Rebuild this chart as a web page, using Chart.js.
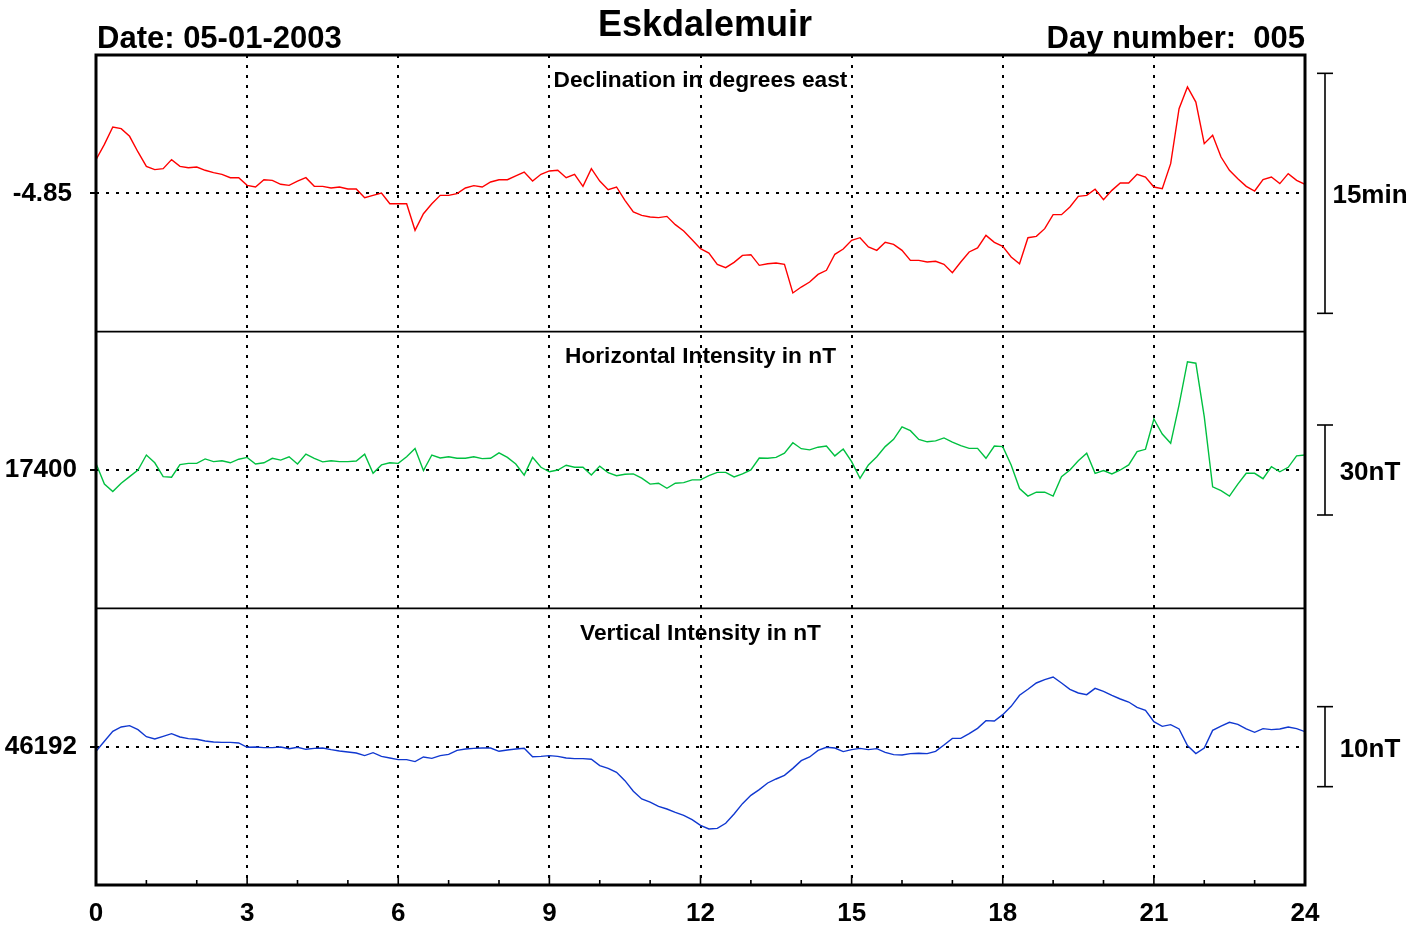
<!DOCTYPE html>
<html><head><meta charset="utf-8">
<script src="https://cdn.jsdelivr.net/npm/chart.js@4/dist/chart.umd.min.js"></script>
<style>
html,body{margin:0;padding:0;background:#fff;}
#wrap{position:relative;width:1421px;height:930px;overflow:hidden;font-family:"Liberation Sans",Arial,Helvetica,sans-serif;font-weight:bold;color:#000;}
#c{position:absolute;left:0;top:0;}
.t{position:absolute;white-space:pre;line-height:1;font-weight:bold;}
</style></head><body>
<div id="wrap">
<canvas id="c" width="1421" height="930"></canvas>
<div class="t" id="title">Eskdalemuir</div>
<div class="t" id="date">Date: 05-01-2003</div>
<div class="t" id="day">Day number:  005</div>
</div>
<script>
// ---- data (10-minute samples, 00:00 to 24:00 UT) ----
const STEP_MINUTES = 10;
const dValues = [
-4.8149,-4.7990,-4.7809,-4.7826,-4.7906,-4.8069,-4.8219,-4.8253,-4.8243,-4.8149,
-4.8219,-4.8233,-4.8226,-4.8260,-4.8285,-4.8302,-4.8337,-4.8337,-4.8417,-4.8434,
-4.8358,-4.8365,-4.8406,-4.8417,-4.8372,-4.8337,-4.8427,-4.8427,-4.8444,-4.8434,
-4.8455,-4.8455,-4.8545,-4.8521,-4.8497,-4.8608,-4.8608,-4.8608,-4.8885,-4.8712,
-4.8608,-4.8521,-4.8521,-4.8503,-4.8444,-4.8420,-4.8434,-4.8382,-4.8358,-4.8358,
-4.8319,-4.8278,-4.8372,-4.8302,-4.8267,-4.8260,-4.8337,-4.8302,-4.8427,-4.8243,
-4.8372,-4.8462,-4.8434,-4.8573,-4.8694,-4.8729,-4.8747,-4.8753,-4.8740,-4.8826,
-4.8892,-4.8983,-4.9076,-4.9122,-4.9240,-4.9274,-4.9219,-4.9146,-4.9139,-4.9250,
-4.9233,-4.9226,-4.9240,-4.9538,-4.9476,-4.9424,-4.9344,-4.9302,-4.9135,-4.9080,
-4.8990,-4.8962,-4.9059,-4.9094,-4.9010,-4.9031,-4.9094,-4.9198,-4.9198,-4.9215,
-4.9208,-4.9240,-4.9326,-4.9215,-4.9111,-4.9069,-4.8938,-4.9010,-4.9052,-4.9163,
-4.9233,-4.8962,-4.8948,-4.8868,-4.8722,-4.8722,-4.8642,-4.8531,-4.8521,-4.8458,
-4.8566,-4.8469,-4.8392,-4.8392,-4.8302,-4.8330,-4.8434,-4.8451,-4.8191,-4.7618,
-4.7392,-4.7549,-4.7983,-4.7896,-4.8122,-4.8260,-4.8347,-4.8427,-4.8476,-4.8358,
-4.8330,-4.8399,-4.8295,-4.8365,-4.8406];
const hValues = [
17402.2,17395.3,17392.8,17395.6,17397.8,17400.0,17405.0,17402.4,17397.8,17397.6,
17401.8,17402.2,17402.2,17403.7,17402.8,17403.1,17402.4,17403.6,17404.2,17402.0,
17402.4,17403.9,17403.3,17404.4,17402.0,17405.3,17403.9,17402.7,17403.1,17402.8,
17402.8,17403.0,17405.3,17398.9,17401.7,17402.4,17402.2,17404.4,17407.2,17399.8,
17405.0,17404.0,17404.4,17403.9,17403.9,17404.4,17403.8,17403.9,17405.7,17404.2,
17402.0,17398.3,17404.2,17400.9,17399.4,17400.0,17401.6,17400.9,17400.9,17398.3,
17401.3,17399.1,17398.1,17398.6,17398.7,17397.3,17395.3,17395.6,17393.9,17395.6,
17395.8,17396.7,17396.7,17398.1,17399.2,17399.2,17397.7,17398.7,17400.0,17404.0,
17403.9,17404.2,17405.6,17409.1,17407.1,17406.7,17407.6,17408.0,17404.7,17407.0,
17402.8,17397.2,17401.7,17404.4,17407.8,17410.2,17414.4,17413.1,17410.2,17409.4,
17409.7,17410.7,17409.3,17408.1,17407.2,17407.2,17403.9,17408.0,17407.8,17401.7,
17393.8,17391.3,17392.6,17392.6,17391.3,17397.8,17400.0,17403.1,17405.6,17398.9,
17399.8,17398.7,17400.0,17401.7,17406.1,17406.9,17417.0,17412.0,17408.9,17421.7,
17436.1,17435.6,17417.8,17394.4,17393.1,17391.3,17395.3,17398.9,17398.9,17397.1,
17401.1,17399.4,17400.9,17404.7,17405.0];
const zValues = [
46191.42,46192.67,46193.92,46194.46,46194.63,46194.13,46193.25,46192.96,46193.29,46193.63,
46193.21,46193.00,46192.92,46192.71,46192.58,46192.54,46192.54,46192.46,46191.92,46191.96,
46191.88,46191.88,46191.96,46191.75,46191.92,46191.67,46191.79,46191.83,46191.63,46191.46,
46191.33,46191.21,46190.88,46191.25,46190.79,46190.58,46190.38,46190.38,46190.13,46190.71,
46190.54,46190.88,46191.04,46191.54,46191.71,46191.79,46191.83,46191.83,46191.42,46191.58,
46191.71,46191.79,46190.75,46190.79,46190.88,46190.79,46190.58,46190.50,46190.50,46190.42,
46189.63,46189.29,46188.79,46187.75,46186.42,46185.46,46185.08,46184.54,46184.21,46183.79,
46183.42,46182.88,46182.17,46181.71,46181.79,46182.42,46183.58,46184.88,46185.92,46186.63,
46187.46,46187.96,46188.42,46189.29,46190.25,46190.71,46191.54,46191.92,46191.83,46191.38,
46191.63,46191.79,46191.63,46191.75,46191.29,46191.00,46190.96,46191.13,46191.17,46191.13,
46191.42,46192.21,46193.04,46193.04,46193.63,46194.29,46195.25,46195.21,46196.00,46197.04,
46198.42,46199.17,46199.96,46200.38,46200.71,46199.96,46199.17,46198.71,46198.50,46199.29,
46198.92,46198.42,46197.96,46197.58,46196.92,46196.54,46195.13,46194.54,46194.75,46194.21,
46192.13,46191.13,46191.83,46194.04,46194.58,46195.04,46194.79,46194.21,46193.79,46194.25,
46194.13,46194.21,46194.46,46194.25,46193.88];
const hours = dValues.map((_, i) => i * STEP_MINUTES / 60);

const xTickHours = [0, 3, 6, 9, 12, 15, 18, 21, 24];
const xTickLabels = ['0', '3', '6', '9', '12', '15', '18', '21', '24'];
const minorTickHours = [1,2,4,5,7,8,10,11,13,14,16,17,19,20,22,23];
const panelTitles = ['Declination in degrees east', 'Horizontal Intensity in nT', 'Vertical Intensity in nT'];
const baseValues = [-4.85, 17400, 46192];
const baseLabels = ['-4.85', '17400', '46192'];
const scaleBarSizes = [0.25, 30, 10];          // 15 arcmin, 30 nT, 10 nT
const scaleBarLabels = ['15min', '30nT', '10nT'];
const pxPerUnit = [960, 3, 8];                  // panel scaling (pixels per unit)
const seriesColors = ['#ff0000', '#00c040', '#1038d0'];

// ---- chart ----
const FONT = '"Liberation Sans", Arial, Helvetica, sans-serif';
const PANEL_HALF_PX = 138.33;
const LABEL_PAD = [18, 13, 13];
const axisIds = ['yD', 'yH', 'yZ'];
const seriesValues = [dValues, hValues, zValues];

function yScale(i) {
  return {
    type: 'linear', position: 'left', stack: 'panels', stackWeight: 1,
    min: baseValues[i] - PANEL_HALF_PX / pxPerUnit[i],
    max: baseValues[i] + PANEL_HALF_PX / pxPerUnit[i],
    afterBuildTicks: s => { s.ticks = [{ value: baseValues[i] }]; },
    afterFit: s => { s.width = 96; },
    ticks: { padding: LABEL_PAD[i], color: '#000', font: { family: FONT, size: 26, weight: 'bold' },
             callback: () => baseLabels[i] },
    grid: { color: '#000', lineWidth: 2, drawTicks: true, tickLength: 6, tickWidth: 2,
            tickColor: '#000', tickBorderDash: [] },
    border: { display: false, dash: [3, 7] }
  };
}

const overlay = {
  id: 'overlay',
  afterDraw(chart) {
    const { ctx, chartArea: a, scales } = chart;
    ctx.save();
    ctx.strokeStyle = '#000';
    const seg = (x1, y1, x2, y2) => { ctx.beginPath(); ctx.moveTo(x1, y1); ctx.lineTo(x2, y2); ctx.stroke(); };
    // panel separators
    ctx.lineWidth = 1.6;
    ['yD', 'yH'].forEach(id => { const y = scales[id].bottom; seg(a.left, y, a.right, y); });
    // hour ticks on the bottom axis
    ctx.lineWidth = 1.6;
    minorTickHours.forEach(h => { const x = scales.x.getPixelForValue(h); seg(x, a.bottom, x, a.bottom - 5); });
    xTickHours.forEach(h => { const x = scales.x.getPixelForValue(h); seg(x, a.bottom, x, a.bottom - 10); });
    // frame
    ctx.lineWidth = 3;
    ctx.strokeRect(a.left, a.top, a.right - a.left, a.bottom - a.top);
    // scale bars
    ctx.lineWidth = 1.6;
    const bx = a.right + 20;
    axisIds.forEach((id, i) => {
      const s = scales[id];
      const y1 = s.getPixelForValue(baseValues[i] + scaleBarSizes[i] / 2);
      const y2 = s.getPixelForValue(baseValues[i] - scaleBarSizes[i] / 2);
      seg(bx, y1, bx, y2);
      seg(bx - 8, y1, bx + 8, y1);
      seg(bx - 8, y2, bx + 8, y2);
    });
    ctx.restore();
  }
};

const chart = new Chart(document.getElementById('c'), {
  type: 'line',
  data: {
    datasets: seriesValues.map((vals, i) => ({
      data: vals.map((v, k) => ({ x: hours[k], y: v })),
      yAxisID: axisIds[i],
      borderColor: seriesColors[i], borderWidth: 1.4,
      pointRadius: 0, tension: 0, fill: false
    }))
  },
  options: {
    responsive: false, animation: false, events: [],
    layout: { padding: { top: 55, right: 116, left: 0, bottom: 0 } },
    plugins: { legend: { display: false }, tooltip: { enabled: false }, title: { display: false } },
    scales: {
      x: {
        type: 'linear', position: 'bottom', min: 0, max: 24,
        afterBuildTicks: s => { s.ticks = xTickHours.map(v => ({ value: v })); },
        afterFit: s => { s.height = 45; },
        ticks: { autoSkip: false, maxRotation: 0, padding: 13, color: '#000',
                 font: { family: FONT, size: 26, weight: 'bold' },
                 callback: (v, idx) => xTickLabels[idx] },
        grid: { color: '#000', lineWidth: 2, drawTicks: false },
        border: { display: false, dash: [3, 7] }
      },
      // listed bottom-first: stacked left axes are placed from the last one (top) down
      yZ: yScale(2),
      yH: yScale(1),
      yD: yScale(0)
    }
  },
  plugins: [overlay]
});

// ---- HTML text overlays ----
const wrap = document.getElementById('wrap');
const ASC = 0.8465; // baseline offset for line-height:1 (Liberation Sans)
function place(el, fs, x, baseline, align) {
  el.style.fontSize = fs + 'px';
  el.style.top = (baseline - ASC * fs) + 'px';
  if (align === 'center') { el.style.left = x + 'px'; el.style.transform = 'translateX(-50%)'; }
  else if (align === 'right') { el.style.right = (1421 - x) + 'px'; }
  else { el.style.left = x + 'px'; }
}
const a = chart.chartArea;
place(document.getElementById('title'), 36, 705, 36, 'center');
place(document.getElementById('date'), 31, a.left + 1, 48, 'left');
place(document.getElementById('day'), 31, a.right, 48, 'right');
axisIds.forEach((id, i) => {
  const s = chart.scales[id];
  const t = document.createElement('div');
  t.className = 't'; t.textContent = panelTitles[i];
  wrap.appendChild(t);
  place(t, 22.7, (a.left + a.right) / 2, s.top + 32, 'center');
  const l = document.createElement('div');
  l.className = 't'; l.textContent = scaleBarLabels[i];
  wrap.appendChild(l);
  place(l, 26, a.right + 65, s.getPixelForValue(baseValues[i]) + 10, 'center');
});
</script>
</body></html>
